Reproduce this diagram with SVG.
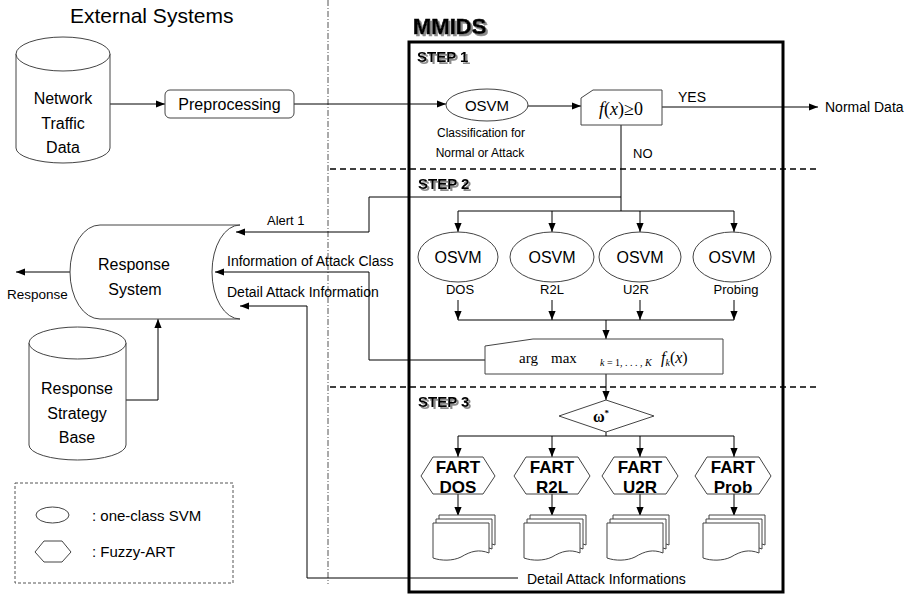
<svg xmlns="http://www.w3.org/2000/svg" width="922" height="598" viewBox="0 0 922 598">
<defs>
<marker id="arr" viewBox="0 0 10 8" refX="10" refY="4" markerWidth="9" markerHeight="7.2" orient="auto" markerUnits="userSpaceOnUse"><path d="M0,0 L10,4 L0,8 z" fill="#000"/></marker>
<filter id="shadow" x="-10%" y="-20%" width="130%" height="160%">
<feOffset in="SourceAlpha" dx="2" dy="2" result="off"/>
<feFlood flood-color="#8a8a8a"/>
<feComposite in2="off" operator="in" result="sh"/>
<feMerge><feMergeNode in="sh"/><feMergeNode in="SourceGraphic"/></feMerge>
</filter>
<g id="doc">
<path d="M6,-8 H62 V22 C52,18 44,20 34,26 C26,30 14,30 6,27 Z" class="sh"/>
<path d="M3,-4 H59 V26 C49,22 41,24 31,30 C23,34 11,34 3,31 Z" class="sh"/>
<path d="M0,0 H56 V30 C46,26 38,28 28,34 C20,38 8,38 0,35 Z" class="sh"/>
</g>
</defs>
<style>
text{font-family:"Liberation Sans",Arial,sans-serif;fill:#000}
.sh{fill:#fff;stroke:#444;stroke-width:1}
.ln{fill:none;stroke:#000;stroke-width:1}
.ar{marker-end:url(#arr)}
.step{font-weight:bold;font-size:15px;filter:url(#shadow)}
.fart{font-weight:bold;font-size:17px;text-anchor:middle}
.mid{text-anchor:middle}
.serif{font-family:"Liberation Serif","Times New Roman",serif}
</style>
<rect width="922" height="598" fill="#fff"/>

<!-- separators -->
<line x1="328" y1="0" x2="328" y2="584" stroke="#555" stroke-width="1" stroke-dasharray="6 2 1 2"/>
<line x1="330" y1="169" x2="818" y2="169" stroke="#000" stroke-width="1.5" stroke-dasharray="6 4"/>
<line x1="330" y1="387" x2="818" y2="387" stroke="#000" stroke-width="1.5" stroke-dasharray="6 4"/>

<text x="70" y="23" font-size="21">External Systems</text>

<!-- MMIDS box -->
<g id="mmids">
<text x="413" y="34" font-size="22" font-weight="bold" stroke="#000" stroke-width="0.6" filter="url(#shadow)">MMIDS</text>
<rect x="409" y="42" width="374" height="550" fill="none" stroke="#000" stroke-width="3"/>
<text x="417" y="62" class="step">STEP 1</text>
<text x="418" y="189" class="step">STEP 2</text>
<text x="418" y="407" class="step">STEP 3</text>
</g>

<!-- connectors -->
<g id="connectors">
<path class="ln ar" d="M110,104 H165"/>
<path class="ln ar" d="M294,104 H446"/>
<path class="ln ar" d="M528,106 H581"/>
<path class="ln ar" d="M662,107 H818"/>
<path class="ln" d="M621,125 V211 M458,211 H734"/>
<path class="ln ar" d="M458,211 V232"/>
<path class="ln ar" d="M552,211 V232"/>
<path class="ln ar" d="M640,211 V232"/>
<path class="ln ar" d="M734,211 V232"/>
<path class="ln ar" d="M621,197 H369 V232 H236"/>
<path class="ln ar" d="M458,300 V320"/>
<path class="ln ar" d="M552,300 V320"/>
<path class="ln ar" d="M640,300 V320"/>
<path class="ln ar" d="M734,300 V320"/>
<path class="ln" d="M458,320 H734"/>
<path class="ln ar" d="M606,320 V339"/>
<path class="ln ar" d="M485,360 H369 V272 H215"/>
<path class="ln ar" d="M606,374 V400"/>
<path class="ln" d="M606,432 V436 M458,436 H734"/>
<path class="ln ar" d="M458,436 V457"/>
<path class="ln ar" d="M552,436 V457"/>
<path class="ln ar" d="M640,436 V457"/>
<path class="ln ar" d="M734,436 V457"/>
<path class="ln ar" d="M458,494 V516"/>
<path class="ln ar" d="M552,494 V516"/>
<path class="ln ar" d="M640,494 V516"/>
<path class="ln ar" d="M734,494 V516"/>
<path class="ln ar" d="M518,578 H307 V306 H240"/>
<path class="ln ar" d="M70,272 H16"/>
<path class="ln ar" d="M126,400 H158 V319"/>
</g>

<!-- connector labels -->
<g id="labels">
<text x="678" y="102" font-size="14">YES</text>
<text x="825" y="112" font-size="14">Normal Data</text>
<text x="633" y="158" font-size="13">NO</text>
<text x="267" y="225" font-size="13">Alert 1</text>
<text x="227" y="266" font-size="14">Information of Attack Class</text>
<text x="227" y="297" font-size="14">Detail Attack Information</text>
<text x="527" y="584" font-size="14">Detail Attack Informations</text>
<text x="7" y="299" font-size="13.5">Response</text>
</g>

<!-- nodes -->
<g id="network-traffic-data">
<path class="sh" d="M16,54 V148 A47,15 0 0 0 110,148 V54"/>
<ellipse class="sh" cx="63" cy="54" rx="47" ry="17"/>
<text x="63" y="104" font-size="16" class="mid">Network</text>
<text x="63" y="129" font-size="16" class="mid">Traffic</text>
<text x="63" y="153" font-size="16" class="mid">Data</text>
</g>

<g id="preprocessing">
<rect class="sh" x="165" y="90" width="129" height="28" rx="5"/>
<text x="229.5" y="110" font-size="16" class="mid">Preprocessing</text>
</g>

<g id="osvm-step1">
<ellipse class="sh" cx="487" cy="105" rx="41" ry="16"/>
<text x="487" y="111" font-size="15" class="mid">OSVM</text>
<text x="481" y="137" font-size="12" class="mid">Classification for</text>
<text x="480" y="157" font-size="12" class="mid">Normal or Attack</text>
</g>

<g id="decision">
<path class="sh" d="M581,98 L593,90 H662 V125 H581 Z"/>
<text x="621" y="115" font-size="18" class="mid serif"><tspan font-style="italic">f</tspan>(<tspan font-style="italic">x</tspan>)≥0</text>
</g>

<g id="response-system">
<path class="sh" d="M100,225 H240 A28,47 0 0 0 240,319 H100 A30,47 0 0 1 100,225 Z"/>
<text x="134" y="270" font-size="16" class="mid">Response</text>
<text x="135" y="295" font-size="16" class="mid">System</text>
</g>

<g id="response-strategy-base">
<path class="sh" d="M29,343 V445 A48.5,15 0 0 0 126,445 V343"/>
<ellipse class="sh" cx="77.5" cy="343" rx="48.5" ry="16"/>
<text x="77" y="394" font-size="16" class="mid">Response</text>
<text x="77" y="419" font-size="16" class="mid">Strategy</text>
<text x="77" y="443" font-size="16" class="mid">Base</text>
</g>

<g id="osvm-dos">
<ellipse class="sh" cx="458" cy="257" rx="40" ry="25"/>
<text x="458" y="263" font-size="16" class="mid">OSVM</text>
<text x="460" y="294" font-size="13" class="mid">DOS</text>
</g>
<g id="osvm-r2l">
<ellipse class="sh" cx="552" cy="257" rx="42" ry="25"/>
<text x="552" y="263" font-size="16" class="mid">OSVM</text>
<text x="552" y="294" font-size="13" class="mid">R2L</text>
</g>
<g id="osvm-u2r">
<ellipse class="sh" cx="640" cy="257" rx="41" ry="25"/>
<text x="640" y="263" font-size="16" class="mid">OSVM</text>
<text x="636" y="294" font-size="13" class="mid">U2R</text>
</g>
<g id="osvm-probing">
<ellipse class="sh" cx="732" cy="257" rx="39" ry="25"/>
<text x="732" y="263" font-size="16" class="mid">OSVM</text>
<text x="736" y="294" font-size="13" class="mid">Probing</text>
</g>

<g id="argmax">
<path class="sh" d="M485,346 L533,339 H723 V374 H485 Z"/>
<text x="519" y="363" font-size="15" class="serif">arg</text>
<text x="551" y="363" font-size="15" class="serif">max</text>
<text x="600" y="366" font-size="10" class="serif"><tspan font-style="italic">k</tspan> = 1, . . . , <tspan font-style="italic">K</tspan></text>
<text x="661" y="363" font-size="16" class="serif"><tspan font-style="italic">f</tspan><tspan font-size="10" font-style="italic" dy="3">k</tspan><tspan dy="-3">(</tspan><tspan font-style="italic">x</tspan>)</text>
</g>

<g id="omega">
<path class="sh" d="M559,416 L606,400 L654,416 L606,432 Z"/>
<text x="601" y="422" font-size="16" class="mid serif" font-weight="bold">ω<tspan font-size="9" dy="-6">*</tspan></text>
</g>

<g id="fart-dos">
<path class="sh" d="M421,476 L433,457 H483 L495,476 L483,494 H433 Z"/>
<text x="458" y="473" class="fart">FART</text>
<text x="458" y="493" class="fart">DOS</text>
</g>
<g id="fart-r2l">
<path class="sh" d="M514,476 L526,457 H578 L590,476 L578,494 H526 Z"/>
<text x="552" y="473" class="fart">FART</text>
<text x="552" y="493" class="fart">R2L</text>
</g>
<g id="fart-u2r">
<path class="sh" d="M602,476 L614,457 H666 L678,476 L666,494 H614 Z"/>
<text x="640" y="473" class="fart">FART</text>
<text x="640" y="493" class="fart">U2R</text>
</g>
<g id="fart-prob">
<path class="sh" d="M695,476 L707,457 H759 L771,476 L759,494 H707 Z"/>
<text x="733" y="473" class="fart">FART</text>
<text x="733" y="493" class="fart">Prob</text>
</g>

<g id="docs-dos"><use href="#doc" x="433" y="523"/></g>
<g id="docs-r2l"><use href="#doc" x="524" y="523"/></g>
<g id="docs-u2r"><use href="#doc" x="607" y="523"/></g>
<g id="docs-prob"><use href="#doc" x="703" y="523"/></g>

<g id="legend">
<rect x="15" y="483" width="218" height="100" fill="none" stroke="#555" stroke-width="1" stroke-dasharray="3 2"/>
<ellipse class="sh" cx="52.5" cy="515" rx="16.5" ry="8"/>
<text x="92" y="521" font-size="15">: one-class SVM</text>
<path class="sh" d="M35,552 L44,541 H62 L71,552 L62,562 H44 Z"/>
<text x="92" y="557" font-size="15">: Fuzzy-ART</text>
</g>
</svg>
